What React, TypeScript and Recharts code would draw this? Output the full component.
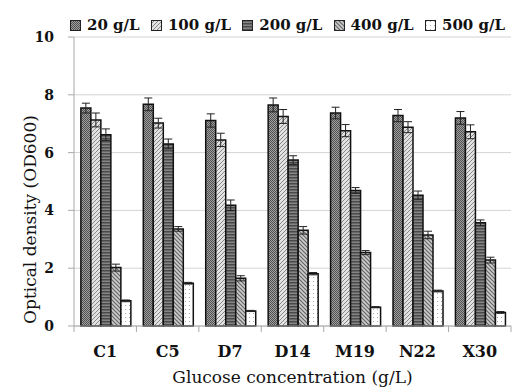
import { BarChart, Bar, XAxis, YAxis, CartesianGrid, ErrorBar } from 'recharts';

const categories = ['C1', 'C5', 'D7', 'D14', 'M19', 'N22', 'X30'];
const od20 = [7.54, 7.67, 7.11, 7.65, 7.37, 7.28, 7.2];
const od100 = [7.13, 7.02, 6.44, 7.25, 6.76, 6.88, 6.72];
const od200 = [6.62, 6.3, 4.18, 5.74, 4.69, 4.52, 3.57];
const od400 = [2.02, 3.36, 1.65, 3.31, 2.54, 3.15, 2.28];
const od500 = [0.87, 1.48, 0.52, 1.81, 0.65, 1.21, 0.47];
const err20 = [0.17, 0.22, 0.23, 0.24, 0.2, 0.21, 0.22];
const err100 = [0.24, 0.17, 0.23, 0.24, 0.21, 0.19, 0.24];
const err200 = [0.2, 0.17, 0.18, 0.15, 0.1, 0.15, 0.1];
const err400 = [0.12, 0.08, 0.09, 0.13, 0.07, 0.13, 0.1];
const err500 = [0.03, 0.03, 0.02, 0.04, 0.02, 0.03, 0.03];
const yTicks = [0, 2, 4, 6, 8, 10];

const series = [
  { key: 'v20', err: 'e20', name: '20 g/L', fill: 'url(#p20)' },
  { key: 'v100', err: 'e100', name: '100 g/L', fill: 'url(#p100)' },
  { key: 'v200', err: 'e200', name: '200 g/L', fill: 'url(#p200)' },
  { key: 'v400', err: 'e400', name: '400 g/L', fill: 'url(#p400)' },
  { key: 'v500', err: 'e500', name: '500 g/L', fill: 'url(#p500)' },
];

const data = categories.map((c, i) => ({
  name: c,
  v20: od20[i], e20: err20[i],
  v100: od100[i], e100: err100[i],
  v200: od200[i], e200: err200[i],
  v400: od400[i], e400: err400[i],
  v500: od500[i], e500: err500[i],
}));

const font = '"DejaVu Serif", serif';

function Patterns() {
  return (
    <svg width={0} height={0} style={{ position: 'absolute' }}>
      <defs>
        <pattern id="p20" width={2} height={2} patternUnits="userSpaceOnUse">
          <rect width={2} height={2} fill="#a0a0a0" />
          <rect width={1} height={1} fill="#505050" />
          <rect x={1} y={1} width={1} height={1} fill="#505050" />
        </pattern>
        <pattern id="p100" width={4} height={4} patternUnits="userSpaceOnUse">
          <rect width={4} height={4} fill="#e2e2e2" />
          <path d="M-1,1 l2,-2 M0,4 l4,-4 M3,5 l2,-2" stroke="#888" strokeWidth={1} />
        </pattern>
        <pattern id="p200" width={3} height={3} patternUnits="userSpaceOnUse">
          <rect width={3} height={3} fill="#858585" />
          <rect width={3} height={1.5} fill="#4a4a4a" />
        </pattern>
        <pattern id="p400" width={4} height={4} patternUnits="userSpaceOnUse">
          <rect width={4} height={4} fill="#cccccc" />
          <path d="M-1,3 l2,2 M0,0 l4,4 M3,-1 l2,2" stroke="#666" strokeWidth={1.2} />
        </pattern>
        <pattern id="p500" width={4} height={4} patternUnits="userSpaceOnUse">
          <rect width={4} height={4} fill="#fff" />
          <rect x={1} y={1} width={1} height={1} fill="#aaa" />
        </pattern>
      </defs>
    </svg>
  );
}

function CategoryTick(props: any) {
  const { x, y, payload, index } = props;
  const axisY = y - 6 - 14;
  const half = payload.offset || 0;
  return (
    <g>
      <line x1={x - half} y1={axisY} x2={x - half} y2={axisY + 6} stroke="#aaa" />
      {index === categories.length - 1 && (
        <line x1={x + half} y1={axisY} x2={x + half} y2={axisY + 6} stroke="#aaa" />
      )}
      <text x={x} y={y} dy="0.71em" textAnchor="middle" fontFamily={font} fontWeight="bold" fontSize={16} fill="#111">
        {payload.value}
      </text>
    </g>
  );
}

function YTitle(props: any) {
  const vb = props.viewBox || { x: 0, y: 0, width: 0, height: 0 };
  const cx = vb.x + 30;
  const cy = vb.y + vb.height / 2 + 38;
  return (
    <text
      x={cx}
      y={cy}
      transform={`rotate(-90, ${cx}, ${cy})`}
      textAnchor="middle"
      dominantBaseline="central"
      fontFamily={font}
      fontSize={17}
      fill="#111"
    >
      Optical density (OD600)
    </text>
  );
}

export default function App() {
  return (
    <div style={{ position: 'absolute', left: 0, top: 0, width: 512, height: 387, background: '#fff' }}>
      <Patterns />
      <div
        style={{
          position: 'absolute',
          left: 70,
          top: 15,
          width: 435,
          display: 'flex',
          justifyContent: 'space-between',
          fontFamily: font,
          fontWeight: 'bold',
          fontSize: 15,
          color: '#111',
          lineHeight: '20px',
        }}
      >
        {series.map((s) => (
          <div key={s.key} style={{ display: 'flex', alignItems: 'center', gap: 6 }}>
            <svg width={11} height={11}>
              <rect x={0.5} y={0.5} width={10} height={10} fill={s.fill} stroke="#222" strokeWidth={1} />
            </svg>
            <span>{s.name}</span>
          </div>
        ))}
      </div>
      <BarChart
        width={512}
        height={387}
        data={data}
        margin={{ top: 37, right: 1, bottom: 1, left: 0 }}
        barCategoryGap="11%"
        barGap={0}
      >
        <CartesianGrid vertical={false} stroke="#d4d4d4" />
        <XAxis
          dataKey="name"
          height={60}
          axisLine={{ stroke: '#aaa' }}
          tickLine={false}
          tickSize={6}
          tickMargin={14}
          interval={0}
          tick={<CategoryTick />}
          label={{
            value: 'Glucose concentration (g/L)',
            position: 'insideBottom',
            offset: 3,
            fontFamily: font,
            fontSize: 17,
            fill: '#111',
          }}
        />
        <YAxis
          width={74}
          domain={[0, 10]}
          ticks={yTicks}
          axisLine={{ stroke: '#aaa' }}
          tickLine={{ stroke: '#aaa' }}
          tickSize={6}
          tickMargin={14}
          tick={{ fontFamily: font, fontWeight: 'bold', fontSize: 14, fill: '#111' }}
          label={<YTitle />}
        />
        {series.map((s) => (
          <Bar key={s.key} dataKey={s.key} name={s.name} fill={s.fill} stroke="#111" strokeWidth={1.5} isAnimationActive={false}>
            <ErrorBar dataKey={s.err} width={4} stroke="#222" strokeWidth={1} />
          </Bar>
        ))}
      </BarChart>
    </div>
  );
}
